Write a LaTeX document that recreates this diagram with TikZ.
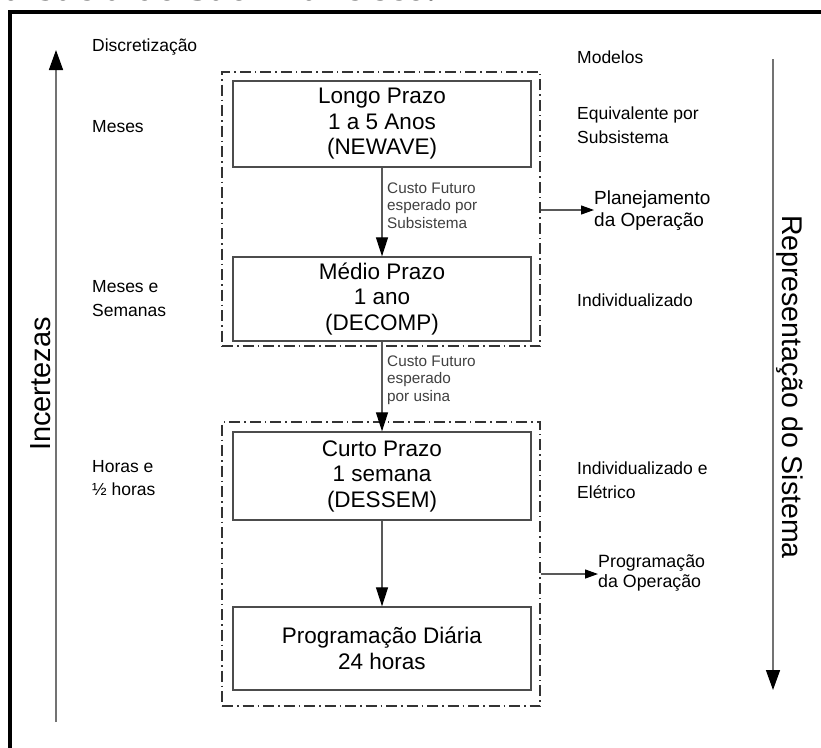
\documentclass[tikz,border=0pt]{standalone}
\usepackage{fontspec}
\setmainfont{Liberation Sans}
\newfontfamily\titlefont{Liberation Serif}
\usetikzlibrary{arrows.meta,positioning,fit}
\begin{document}
\begin{tikzpicture}[x=1pt,y=-1pt,
  mbox/.style={draw=black!70,line width=1.3pt,minimum width=298pt,align=center,
    font=\fontsize{22.5}{25.5}\selectfont,inner sep=0pt},
  grp/.style={draw=black!80,line width=1.3pt,dash pattern=on 11pt off 4pt on 1.5pt off 4pt},
  lbl/.style={anchor=west,align=left,inner sep=0pt,font=\fontsize{17.5}{23.5}\selectfont},
  small/.style={anchor=west,align=left,inner sep=0pt,text=black!75,font=\fontsize{15.3}{17.5}\selectfont},
  flow/.style={draw=black!65,line width=1.2pt,-{Triangle[length=19pt,width=12pt,fill=black,color=black]}},
  side/.style={draw=black!65,line width=1.2pt,-{Triangle[length=13pt,width=9pt,fill=black,color=black]}},
  axis/.style={draw=black!55,line width=1.5pt,-{Triangle[length=20pt,width=14pt,fill=black,color=black]}},
  big/.style={inner sep=0pt}]
\useasboundingbox (0,0) rectangle (821,747);
\clip (0,0) rectangle (821,747);
% cropped caption at top
\node[anchor=base west,inner sep=0pt,font=\titlefont\bfseries\fontsize{40}{42}\selectfont] (cap) at (4,0.5) {a bacia do São Francisco.};
% outer frame
\draw[line width=4pt] (10,770) -- (10,12) -- (840,12);
% boxes
\node[mbox,minimum height=86pt] (longo) at (382,124) {Longo Prazo\\1 a 5 Anos\\(NEWAVE)};
\node[mbox,minimum height=84pt] (medio) at (382,299) {Médio Prazo\\1 ano\\(DECOMP)};
\node[mbox,minimum height=88pt] (curto) at (382,476) {Curto Prazo\\1 semana\\(DESSEM)};
\node[mbox,minimum height=83pt] (diaria) at (382,648.5) {Programação Diária\\24 horas};
% groups
\node[grp,minimum width=318pt,minimum height=274pt,inner sep=0pt] (g1) at (381,209) {};
\node[grp,minimum width=318pt,minimum height=284pt,inner sep=0pt] (g2) at (381,564) {};
% flow arrows
\draw[flow] (longo.south) -- (medio.north);
\draw[flow] (medio.south) -- (curto.north);
\draw[flow] (curto.south) -- (diaria.north);
\node[small] (cf1) at (387,205.5) {Custo Futuro\\esperado por\\Subsistema};
\node[small] (cf2) at (387,380) {Custo Futuro\\esperado\\por usina};
% side outputs
\node[lbl,font=\fontsize{19}{22}\selectfont] (plan) at (594,211) {Planejamento\\da Operação};
\node[lbl,font=\fontsize{17.8}{20}\selectfont] (prog) at (598,573) {Programação\\da Operação};
\coordinate (p1) at (g1.east |- 0,210);
\coordinate (p2) at (g2.east |- 0,574);
\draw[side] (p1) -- (plan.west |- p1);
\draw[side] (p2) -- (prog.west |- p2);
% left labels
\node[lbl] (disc) at (92,47) {Discretização};
\node[lbl] (l1) at (92,127) {Meses};
\node[lbl] (l2) at (92,298.5) {Meses e\\Semanas};
\node[lbl] (l3) at (92,478) {Horas e\\½ horas};
% right labels
\node[lbl] (mod) at (577,57) {Modelos};
\node[lbl] (r1) at (577,125) {Equivalente por\\Subsistema};
\node[lbl] (r2) at (577,300) {Individualizado};
\node[lbl] (r3) at (577,480) {Individualizado e\\Elétrico};
% axes
\coordinate (a1s) at (56,722);
\coordinate (a1e) at (56,50);
\draw[axis] (a1s) -- (a1e);
\coordinate (a2s) at (773,59);
\coordinate (a2e) at (773,690);
\draw[axis] (a2s) -- (a2e);
\node[big,rotate=90,font=\fontsize{29}{31}\selectfont] (inc) at (41,384) {Incertezas};
\node[big,rotate=-90,font=\fontsize{28.5}{31}\selectfont] (rep) at (790,387) {Representação do Sistema};
\end{tikzpicture}
\end{document}
